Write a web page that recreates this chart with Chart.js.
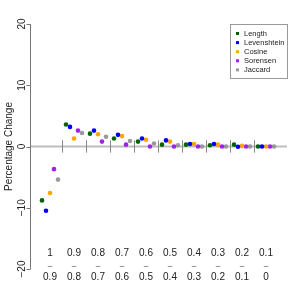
<!DOCTYPE html>
<html>
<head>
<meta charset="utf-8">
<script src="https://cdn.jsdelivr.net/npm/chart.js@4"></script>
<style>
  html, body { margin: 0; padding: 0; background: #fff; }
  #wrap { width: 300px; height: 300px; }
</style>
</head>
<body>
<div id="wrap"><canvas id="myChart" width="300" height="300"></canvas></div>
<script>
// bins of the similarity score, upper and lower bound
const binTop = ["1", "0.9", "0.8", "0.7", "0.6", "0.5", "0.4", "0.3", "0.2", "0.1"];
const binBottom = ["0.9", "0.8", "0.7", "0.6", "0.5", "0.4", "0.3", "0.2", "0.1", "0"];

const seriesNames = ["Length", "Levenshtein", "Cosine", "Sorensen", "Jaccard"];
const seriesColors = ["#006400", "#0000ff", "#ffa500", "#a020f0", "#999999"];

const lengthVals = [-8.8, 3.6, 2.1, 1.3, 0.8, 0.3, 0.3, 0.2, 0.3, 0.0];
const levenVals = [-10.5, 3.2, 2.6, 1.9, 1.3, 1.0, 0.4, 0.4, -0.05, 0.0];
const cosineVals = [-7.6, 1.3, 2.0, 1.7, 1.1, 0.8, 0.4, 0.3, 0.1, 0.0];
const sorensenVals = [-3.7, 2.6, 0.8, 0.3, 0.0, 0.0, 0.0, 0.0, 0.0, 0.0];
const jaccardVals = [-5.4, 2.2, 1.6, 0.9, 0.5, 0.2, 0.0, 0.0, 0.0, 0.0];

const yTicks = [20, 10, 0, -10, -20];

const allVals = [lengthVals, levenVals, cosineVals, sorensenVals, jaccardVals];

// each bin takes 6 slots: 5 points + one gap
const datasets = allVals.map((vals, k) => ({
  label: seriesNames[k],
  data: vals.map((v, g) => ({ x: g * 6 + k, y: v })),
  backgroundColor: seriesColors[k],
  borderWidth: 0,
  pointRadius: 2.3,
  pointHoverRadius: 2.3,
  showLine: false
}));

const font = "Liberation Sans, Arial, sans-serif";

const decor = {
  id: "decor",
  beforeDatasetsDraw(chart) {
    const ctx = chart.ctx;
    const xs = chart.scales.x, ys = chart.scales.y;
    const a = chart.chartArea;
    ctx.save();
    // zero line
    ctx.strokeStyle = "#bdbdbd";
    ctx.lineWidth = 2;
    ctx.beginPath();
    ctx.moveTo(a.left, ys.getPixelForValue(0));
    ctx.lineTo(a.right, ys.getPixelForValue(0));
    ctx.stroke();
    // separators between bins
    ctx.strokeStyle = "#888";
    ctx.lineWidth = 1;
    for (let g = 0; g < binTop.length - 1; g++) {
      const px = Math.round(xs.getPixelForValue(g * 6 + 5)) + 0.5;
      ctx.beginPath();
      ctx.moveTo(px, ys.getPixelForValue(1));
      ctx.lineTo(px, ys.getPixelForValue(-1));
      ctx.stroke();
    }
    // y axis
    const ax = a.left + 0.5;
    ctx.strokeStyle = "#777";
    ctx.beginPath();
    ctx.moveTo(ax, ys.getPixelForValue(20));
    ctx.lineTo(ax, ys.getPixelForValue(-20));
    yTicks.forEach(t => {
      const py = Math.round(ys.getPixelForValue(t)) + 0.5;
      ctx.moveTo(ax, py);
      ctx.lineTo(ax - 4, py);
    });
    ctx.stroke();
    ctx.fillStyle = "#222";
    ctx.font = "10px " + font;
    ctx.textAlign = "center";
    ctx.textBaseline = "alphabetic";
    yTicks.forEach(t => {
      ctx.save();
      ctx.translate(25, ys.getPixelForValue(t));
      ctx.rotate(-Math.PI / 2);
      ctx.fillText(String(t).replace("-", "\u2212"), 0, 0);
      ctx.restore();
    });
    ctx.save();
    ctx.translate(12, ys.getPixelForValue(0));
    ctx.rotate(-Math.PI / 2);
    ctx.fillText("Percentage Change", 0, 0);
    ctx.restore();
    // bin labels
    binTop.forEach((lab, g) => {
      const px = xs.getPixelForValue(g * 6 + 2);
      ctx.font = "10px " + font;
      ctx.fillText(lab, px, 256);
      ctx.fillText(binBottom[g], px, 280);
      ctx.font = "8px " + font;
      ctx.fillText("\u2013", px, 268);
    });
    // legend
    const lx = 230.5, ly = 24.5, lw = 57, lh = 54;
    ctx.strokeStyle = "#999";
    ctx.strokeRect(lx, ly, lw, lh);
    ctx.font = "7.5px " + font;
    ctx.textAlign = "left";
    ctx.textBaseline = "middle";
    seriesNames.forEach((n, k) => {
      const yy = 33.5 + k * 9.1;
      ctx.fillStyle = seriesColors[k];
      ctx.fillRect(236, yy - 1.5, 3, 3);
      ctx.fillStyle = "#222";
      ctx.fillText(n, 244, yy);
    });
    ctx.restore();
  }
};

new Chart(document.getElementById("myChart").getContext("2d"), {
  type: "scatter",
  data: { datasets },
  options: {
    responsive: false,
    animation: false,
    layout: { padding: { left: 30, top: 24, right: 13, bottom: 31 } },
    plugins: { legend: { display: false }, tooltip: { enabled: false } },
    scales: {
      x: { type: "linear", min: -3, max: 61.25, display: false },
      y: { type: "linear", min: -20, max: 20, display: false }
    }
  },
  plugins: [decor]
});
</script>
</body>
</html>
